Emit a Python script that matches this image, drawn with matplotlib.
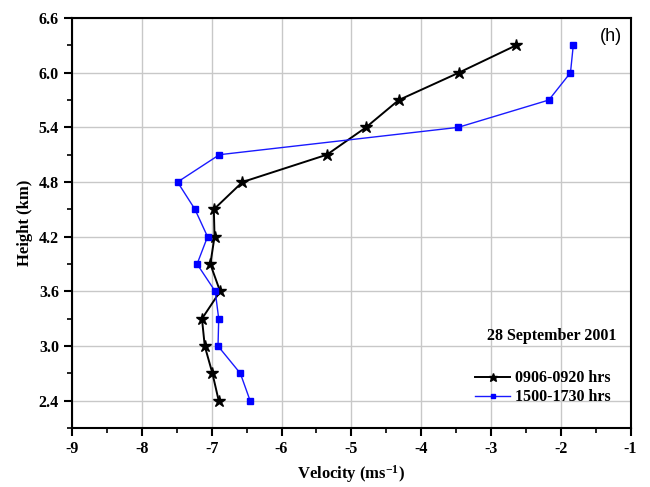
import matplotlib
matplotlib.use("Agg")
import matplotlib.pyplot as plt
from matplotlib.ticker import MultipleLocator

heights = [2.4, 2.7, 3.0, 3.3, 3.6, 3.9, 4.2, 4.5, 4.8, 5.1, 5.4, 5.7, 6.0, 6.3]
vel_morning = [-6.90, -6.99, -7.10, -7.14, -6.88, -7.02, -6.96, -6.97, -6.56, -5.35, -4.79, -4.32, -3.46, -2.64]
vel_evening = [-6.45, -6.59, -6.91, -6.90, -6.95, -7.21, -7.06, -7.24, -7.49, -6.89, -3.47, -2.17, -1.86, -1.82]
label_morning = "0906-0920 hrs"
label_evening = "1500-1730 hrs"
xticks = [-9, -8, -7, -6, -5, -4, -3, -2, -1]
yticks = [2.4, 3.0, 3.6, 4.2, 4.8, 5.4, 6.0, 6.6]

plt.rcParams["mathtext.fontset"] = "custom"
plt.rcParams["mathtext.rm"] = "Liberation Serif:bold"
plt.rcParams["mathtext.it"] = "Liberation Serif:bold"
plt.rcParams["mathtext.bf"] = "Liberation Serif:bold"
plt.rcParams["axes.unicode_minus"] = False

serif = ["Liberation Serif", "DejaVu Serif"]
fig = plt.figure(figsize=(6.5, 4.87), dpi=100)
ax = fig.add_axes([0.111, 0.121, 0.859, 0.842])

ax.plot(vel_morning, heights, color="black", lw=1.4, marker="*", ms=9,
        label=label_morning, zorder=3)
ax.plot(vel_evening, heights, color="#1a1aff", lw=1.0, marker="s", ms=4,
        mfc="#0000ff", mec="#0000ff", label=label_evening, zorder=3)

ax.set_xlim(-9, -1)
ax.set_ylim(2.1, 6.6)
ax.set_xticks(xticks)
ax.set_yticks(yticks)
ax.set_xticklabels([f"{v:d}" for v in xticks])
ax.set_yticklabels([f"{v:.1f}" for v in yticks])
ax.xaxis.set_minor_locator(MultipleLocator(0.5))
ax.yaxis.set_minor_locator(MultipleLocator(0.3))
ax.grid(True, which="major", color="#c8c8c8", lw=1.0, zorder=0)
ax.tick_params(which="major", direction="out", length=6, width=1.5, labelsize=11.5)
ax.tick_params(which="minor", direction="out", length=3.5, width=1.2)
for lab in ax.get_xticklabels() + ax.get_yticklabels():
    lab.set_family(serif)
    lab.set_fontweight("bold")
for s in ax.spines.values():
    s.set_linewidth(1.5)

ax.set_xlabel("Velocity (ms$^{-1}$)", family=serif, fontweight="bold", fontsize=12)
ax.set_ylabel("Height (km)", family=serif, fontweight="bold", fontsize=12)

ax.text(0.985, 0.955, "(h)", transform=ax.transAxes, ha="right", va="center",
        family=["Liberation Sans", "DejaVu Sans"], fontsize=13)
ax.text(0.975, 0.225, "28 September 2001", transform=ax.transAxes, ha="right",
        va="center", family=serif, fontweight="bold", fontsize=11.5)

leg = ax.legend(loc="lower right", bbox_to_anchor=(0.99, 0.02), frameon=False,
                prop={"family": serif, "weight": "bold", "size": 11.5},
                handlelength=2.2, handletextpad=0.3, labelspacing=0.2,
                markerscale=0.7)

fig.savefig("out.png", dpi=100)
